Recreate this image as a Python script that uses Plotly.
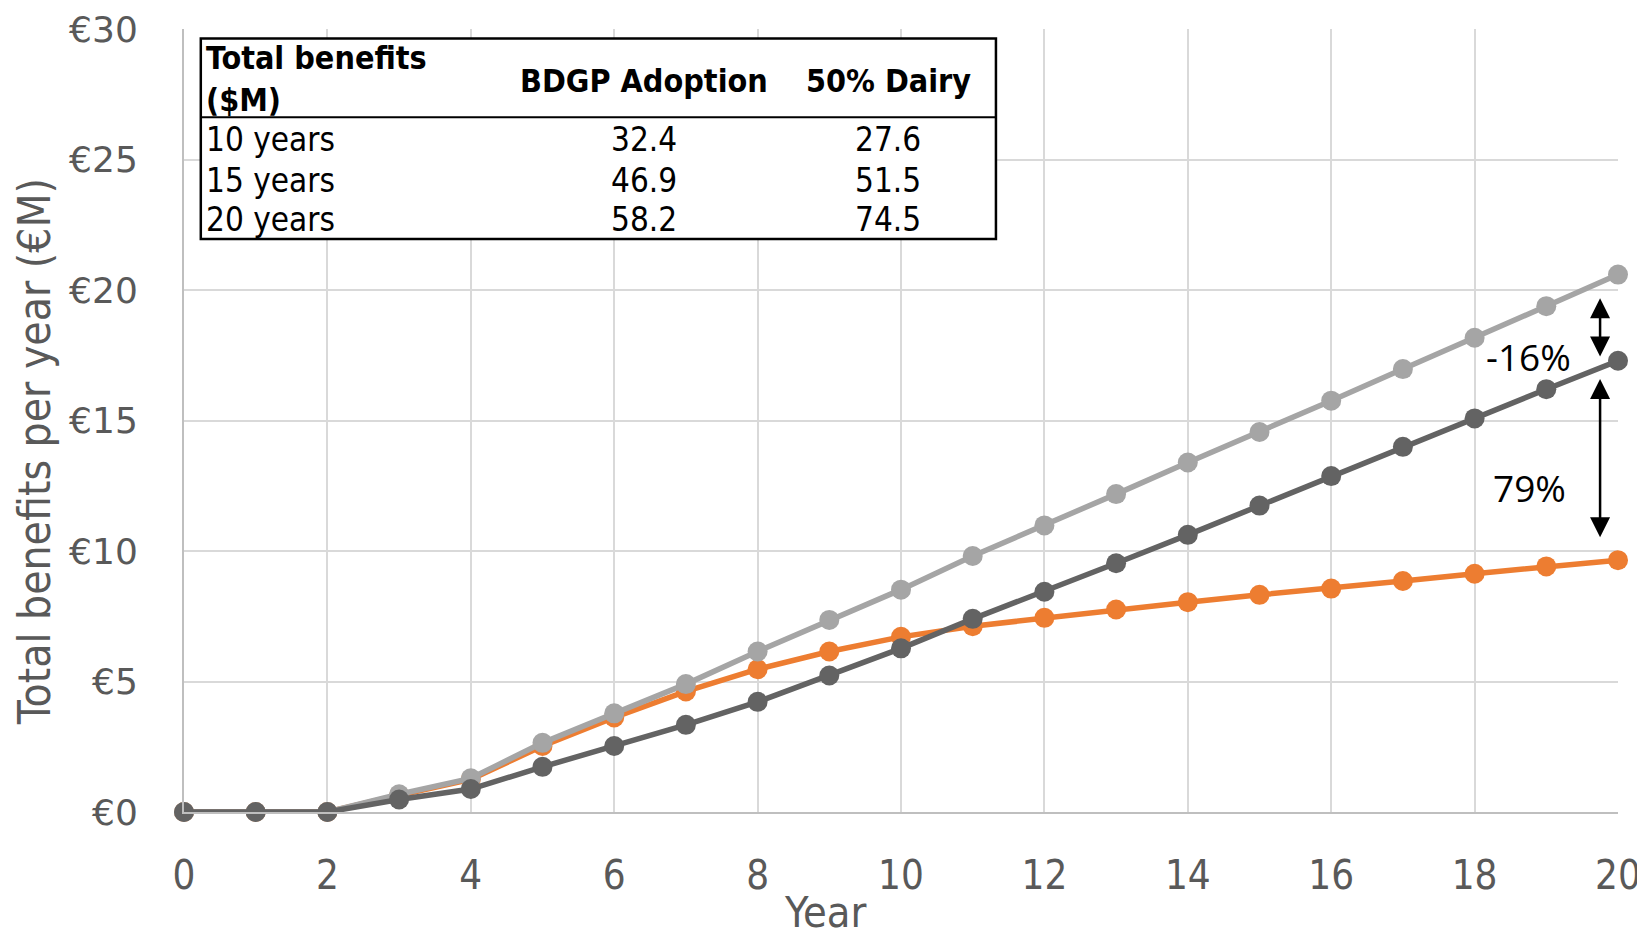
import plotly.graph_objects as go

# ---- data ----
years = list(range(0, 21))
light_gray = [0, 0, 0, 0.68, 1.29, 2.65, 3.78, 4.90, 6.15, 7.36, 8.52, 9.81, 10.98,
              12.18, 13.39, 14.56, 15.76, 16.97, 18.17, 19.38, 20.59]
dark_gray = [0, 0, 0, 0.48, 0.88, 1.73, 2.53, 3.34, 4.22, 5.23, 6.27, 7.40, 8.44,
             9.53, 10.62, 11.74, 12.87, 13.99, 15.08, 16.20, 17.29]
orange = [0, 0, 0, 0.64, 1.25, 2.53, 3.62, 4.62, 5.47, 6.15, 6.71, 7.12, 7.44,
          7.76, 8.04, 8.32, 8.56, 8.85, 9.13, 9.41, 9.65]

y_ticks = [0, 5, 10, 15, 20, 25, 30]
y_tick_labels = ["€0", "€5", "€10", "€15", "€20", "€25", "€30"]
x_ticks = list(range(0, 21, 2))

table_header = ["Total benefits<br>($M)", "BDGP Adoption", "50% Dairy"]
table_rows = ["10 years", "15 years", "20 years"]
table_bdgp = ["32.4", "46.9", "58.2"]
table_dairy = ["27.6", "51.5", "74.5"]

diff_labels = ["-16%", "79%"]

# ---- layout geometry (pixels, page coordinates; figure sits 8px in) ----
OFF = 8
W, H = 1645, 940
L, R, T, B = 183.6 - OFF, 1617.7 - OFF, 29.4 - OFF, 812.0 - OFF
PW, PH = R - L, B - T


def px(x):
    return (x - OFF - L) / PW


def py(y):
    return (B - (y - OFF)) / PH


FONT = "DejaVu Sans Condensed, Liberation Sans, sans-serif"
GRAY_TXT = "#595959"

fig = go.Figure()
series = [("BDGP Adoption", orange, "#ED7D31"),
          ("Scenario", light_gray, "#A5A5A5"),
          ("50% Dairy", dark_gray, "#636363")]
for name, vals, col in series:
    fig.add_trace(go.Scatter(
        x=years, y=vals, mode="lines+markers", name=name,
        line=dict(color=col, width=5.5),
        marker=dict(color=col, size=20),
        cliponaxis=False, showlegend=False))

annotations = []
HF = dict(family=FONT, size=32, color="black")
TF = dict(family=FONT, size=33, color="black")
annotations.append(dict(xref="paper", yref="paper", x=px(204), y=py(79),
                        xanchor="left", yanchor="middle", align="left",
                        text="<b>" + table_header[0] + "</b>", showarrow=False,
                        font=HF))
annotations.append(dict(xref="paper", yref="paper", x=px(644), y=py(81),
                        xanchor="center", yanchor="middle",
                        text="<b>" + table_header[1] + "</b>", showarrow=False,
                        font=HF))
annotations.append(dict(xref="paper", yref="paper", x=px(888), y=py(81),
                        xanchor="center", yanchor="middle",
                        text="<b>" + table_header[2] + "</b>", showarrow=False,
                        font=HF))
row_y = [139.5, 180.4, 220.3]
for i, lab in enumerate(table_rows):
    for xx, txt, anc in [(204, lab, "left"), (644, table_bdgp[i], "center"),
                         (888, table_dairy[i], "center")]:
        annotations.append(dict(xref="paper", yref="paper", x=px(xx), y=py(row_y[i]),
                                xanchor=anc, yanchor="middle", text=txt,
                                showarrow=False, font=TF))

# double-headed arrows
arrow_x = 19.75
for y0, y1 in [(19.74, 17.45), (16.65, 10.53)]:
    annotations.append(dict(xref="x", yref="y", axref="x", ayref="y",
                            x=arrow_x, y=y1, ax=arrow_x, ay=y0, text="",
                            showarrow=True, arrowhead=2, startarrowhead=2,
                            arrowside="end+start", arrowsize=1.6, startarrowsize=1.6,
                            arrowwidth=2.5, arrowcolor="black"))
annotations.append(dict(xref="x", yref="y", x=18.75, y=17.45, text=diff_labels[0],
                        showarrow=False, xanchor="center", yanchor="middle",
                        font=dict(family="Open Sans, sans-serif", size=37, color="black")))
annotations.append(dict(xref="x", yref="y", x=18.77, y=12.42, text=diff_labels[1],
                        showarrow=False, xanchor="center", yanchor="middle",
                        font=dict(family="Open Sans, sans-serif", size=37, color="black")))

# axis titles
annotations.append(dict(xref="paper", yref="paper", x=px(825), y=py(912),
                        text="Year", showarrow=False, xanchor="center", yanchor="middle",
                        font=dict(family=FONT, size=43, color=GRAY_TXT)))
annotations.append(dict(xref="paper", yref="paper", x=px(34), y=py(452),
                        text="Total benefits per year (€M)", textangle=-90,
                        showarrow=False, xanchor="center", yanchor="middle",
                        font=dict(family=FONT, size=44, color=GRAY_TXT)))

shapes = [
    dict(type="rect", xref="paper", yref="paper", x0=px(200.4), x1=px(995.6),
         y0=py(239.2), y1=py(38.8), line=dict(color="black", width=2.5),
         fillcolor="white", layer="above"),
    dict(type="line", xref="paper", yref="paper", x0=px(200.4), x1=px(995.6),
         y0=py(117.5), y1=py(117.5), line=dict(color="black", width=2)),
]

fig.update_layout(
    width=W, height=H,
    margin=dict(l=L, r=W - R, t=T, b=H - B, pad=0, autoexpand=False),
    paper_bgcolor="white", plot_bgcolor="white",
    annotations=annotations, shapes=shapes,
    xaxis=dict(range=[0, 20], tickvals=x_ticks, showgrid=True, gridcolor="#D9D9D9",
               gridwidth=1.5, zeroline=False, showline=True, linecolor="#BFBFBF",
               linewidth=2, ticks="", ticklabelstandoff=27, automargin=False,
               tickfont=dict(family=FONT, size=40, color=GRAY_TXT)),
    yaxis=dict(range=[0, 30], tickvals=y_ticks, ticktext=y_tick_labels, showgrid=True,
               gridcolor="#D9D9D9", gridwidth=1.5, zeroline=False, showline=True,
               linecolor="#BFBFBF", linewidth=2, ticks="", ticklabelstandoff=37,
               automargin=False,
               tickfont=dict(family="URW Gothic, Century Gothic, DejaVu Sans, sans-serif",
                             size=36, color=GRAY_TXT)),
)

fig.write_html("out.html")
